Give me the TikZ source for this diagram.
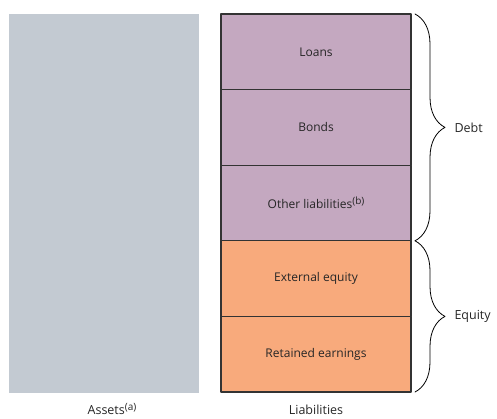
\documentclass[tikz,border=0pt]{standalone}
\usepackage{fontspec}
\setmainfont{Open Sans}
\usetikzlibrary{decorations.pathreplacing}
\definecolor{assetgray}{rgb}{0.765,0.792,0.824}
\definecolor{debtpurple}{rgb}{0.769,0.659,0.753}
\definecolor{equityorange}{rgb}{0.973,0.667,0.486}
\definecolor{edgegray}{rgb}{0.2,0.2,0.2}
\newcommand{\supnote}[1]{\raisebox{0.55ex}{\fontsize{10}{12}\selectfont(#1)}}

\begin{document}
\begin{tikzpicture}[x=1pt,y=-1pt,line cap=round,line join=round,
  cell/.style={draw=edgegray,line width=1.2pt,minimum width=190pt,minimum height=75.6pt,
    inner sep=0pt,outer sep=0pt,font=\fontsize{12}{14}\selectfont,text=black!85},
  lbl/.style={font=\fontsize{12.5}{14}\selectfont,text=black!85},
  brace/.style={decorate,decoration={brace,amplitude=30pt},line width=0.8pt}]
\useasboundingbox (0,0) rectangle (497,419);
% assets column
\node[fill=assetgray,minimum width=190pt,minimum height=379pt,inner sep=0pt,outer sep=0pt] (assets) at (104,203.5) {};
\node[lbl,anchor=base] (assetslbl) at (112,414) {Assets\supnote{a}};
% liabilities column, top to bottom
\node[cell,fill=debtpurple] (loans) at (316,51.8) {Loans};
\node[cell,fill=debtpurple] (bonds) at (316,127.4) {Bonds};
\node[cell,fill=debtpurple] (other) at (316,203) {Other liabilities\supnote{b}};
\node[cell,fill=equityorange] (external) at (316,278.6) {External equity};
\node[cell,fill=equityorange] (retained) at (316,354.2) {Retained earnings};
\node[lbl,anchor=base] (liablbl) at (316,414) {Liabilities};
% braces
\draw[brace] ([xshift=4pt]loans.north east) -- ([xshift=4pt]other.south east);
\draw[brace] ([xshift=4pt]external.north east) -- ([xshift=4pt]retained.south east);
\node[lbl,anchor=west] (debt) at (451,127.4) {Debt};
\node[lbl,anchor=west] (equity) at (451,316.4) {Equity};
\end{tikzpicture}
\end{document}
